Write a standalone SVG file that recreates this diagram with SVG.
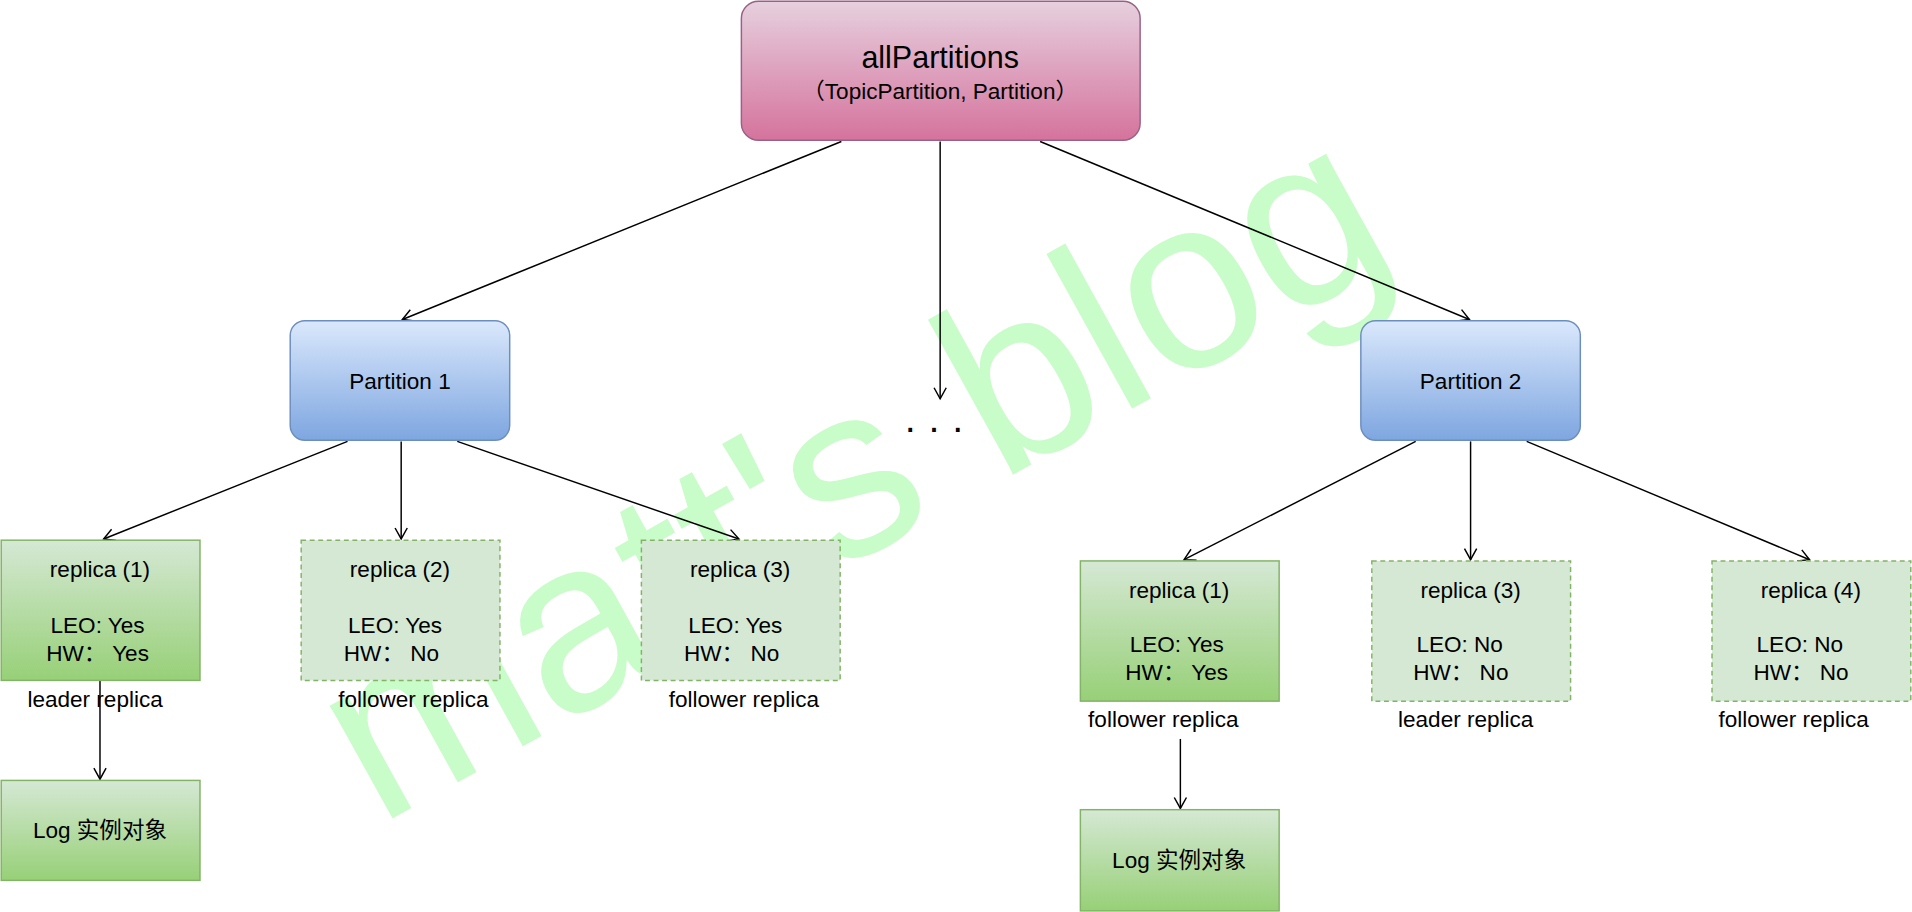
<svg xmlns="http://www.w3.org/2000/svg" width="1912" height="912" viewBox="0 0 1912 912">
<defs>
<linearGradient id="gp" x1="0" y1="0" x2="0" y2="1"><stop offset="0" stop-color="#e6d0de"/><stop offset="1" stop-color="#d5739d"/></linearGradient>
<linearGradient id="gb" x1="0" y1="0" x2="0" y2="1"><stop offset="0" stop-color="#dae8fc"/><stop offset="1" stop-color="#7ea6e0"/></linearGradient>
<linearGradient id="gg" x1="0" y1="0" x2="0" y2="1"><stop offset="0" stop-color="#d5e8d4"/><stop offset="1" stop-color="#97d077"/></linearGradient>
<marker id="a" markerWidth="12" markerHeight="12" refX="10" refY="6" orient="auto" markerUnits="userSpaceOnUse"><path d="M1,1 L10,6 L1,11" fill="none" stroke="#000" stroke-width="1.2"/></marker>
</defs>
<style>
text{font-family:"Liberation Sans",Arial,"Noto Sans CJK SC",sans-serif;fill:#000;text-anchor:middle}
.t{font-size:18.5px}
.g{fill:url(#gg);stroke:#82b366;stroke-width:1.2}
.d{fill:#d5e8d4;stroke:#82b366;stroke-width:1.2;stroke-dasharray:4 3}
.e line{stroke:#000;stroke-width:1.2;marker-end:url(#a)}
</style>
<rect width="1912" height="912" fill="#fff"/>
<g transform="scale(1.21939)">
<text x="730" y="445" transform="rotate(-29 730 445)" style="font-size:200px;fill:#c8fcc8">matt's blog</text>
<g class="e" id="connectors">
<line x1="690" y1="116" x2="330" y2="262"/>
<line x1="771" y1="116" x2="771" y2="327"/>
<line x1="853" y1="116" x2="1205" y2="262"/>
<line x1="285" y1="362" x2="85" y2="442"/>
<line x1="329" y1="362" x2="329" y2="442"/>
<line x1="375" y1="362" x2="606" y2="442"/>
<line x1="1161" y1="362" x2="971" y2="459"/>
<line x1="1206" y1="362" x2="1206" y2="459"/>
<line x1="1252" y1="362" x2="1484" y2="459"/>
<line x1="82" y1="558" x2="82" y2="639"/>
<line x1="968" y1="606" x2="968" y2="663"/>
</g>
<text x="766" y="362" style="font-size:32px">· · ·</text>
<g id="allPartitions"><rect x="608" y="1" width="327" height="114" rx="14" fill="url(#gp)" stroke="#996185" stroke-width="1.2"/>
<text x="771" y="56" style="font-size:25px">allPartitions</text><text x="771" y="81" class="t">（TopicPartition, Partition）</text></g>
<g id="p1"><rect x="238" y="263" width="180" height="98" rx="12" fill="url(#gb)" stroke="#6c8ebf" stroke-width="1.2"/><text x="328" y="319" class="t">Partition 1</text></g>
<g id="p2"><rect x="1116" y="263" width="180" height="98" rx="12" fill="url(#gb)" stroke="#6c8ebf" stroke-width="1.2"/><text x="1206" y="319" class="t">Partition 2</text></g>
<g id="r11"><rect x="1" y="443" width="163" height="115" class="g"/><text x="82" y="473" class="t">replica (1)</text><text x="80" y="519" class="t">LEO: Yes</text><text x="80" y="542" class="t">HW：  Yes</text><text x="78" y="580" class="t">leader replica</text></g>
<g id="r12"><rect x="247" y="443" width="163" height="115" class="d"/><text x="328" y="473" class="t">replica (2)</text><text x="324" y="519" class="t">LEO: Yes</text><text x="321" y="542" class="t">HW：  No</text><text x="339" y="580" class="t">follower replica</text></g>
<g id="r13"><rect x="526" y="443" width="163" height="115" class="d"/><text x="607" y="473" class="t">replica (3)</text><text x="603" y="519" class="t">LEO: Yes</text><text x="600" y="542" class="t">HW：  No</text><text x="610" y="580" class="t">follower replica</text></g>
<g id="log1"><rect x="1" y="640" width="163" height="82" class="g"/><text x="82" y="687" class="t">Log 实例对象</text></g>
<g id="r21"><rect x="886" y="460" width="163" height="115" class="g"/><text x="967" y="490" class="t">replica (1)</text><text x="965" y="535" class="t">LEO: Yes</text><text x="965" y="558" class="t">HW：  Yes</text><text x="954" y="596" class="t">follower replica</text></g>
<g id="r23"><rect x="1125" y="460" width="163" height="115" class="d"/><text x="1206" y="490" class="t">replica (3)</text><text x="1197" y="535" class="t">LEO: No</text><text x="1198" y="558" class="t">HW：  No</text><text x="1202" y="596" class="t">leader replica</text></g>
<g id="r24"><rect x="1404" y="460" width="163" height="115" class="d"/><text x="1485" y="490" class="t">replica (4)</text><text x="1476" y="535" class="t">LEO: No</text><text x="1477" y="558" class="t">HW：  No</text><text x="1471" y="596" class="t">follower replica</text></g>
<g id="log2"><rect x="886" y="664" width="163" height="83" class="g"/><text x="967" y="712" class="t">Log 实例对象</text></g>
</g>
</svg>
